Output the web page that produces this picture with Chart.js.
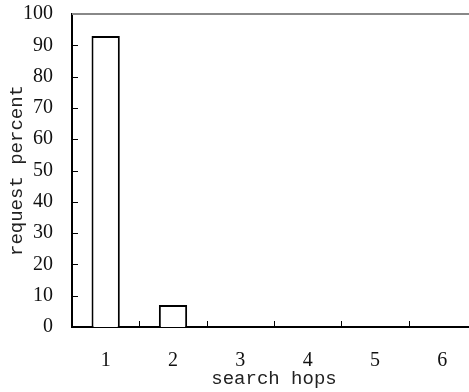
<!DOCTYPE html>
<html>
<head>
<meta charset="utf-8">
<script src="https://cdn.jsdelivr.net/npm/chart.js@4"></script>
<style>
  html, body { margin: 0; padding: 0; background: #fff; overflow: hidden; }
  #wrap { width: 480px; height: 392px; }
</style>
</head>
<body>
<div id="wrap"><canvas id="chart"></canvas></div>
<script>
// chart data
const hops = ['1', '2', '3', '4', '5', '6'];
const requestPercent = [93, 7, 0, 0, 0, 0];
const yTicks = [0, 10, 20, 30, 40, 50, 60, 70, 80, 90, 100];

const tickFont = {family: 'Liberation Serif', size: 20};
const titleFont = {family: 'Liberation Mono', size: 19};

// inward tick marks + grey top border
const innerTicks = {
  id: 'innerTicks',
  afterDraw(chart) {
    const {ctx, chartArea, scales} = chart;
    ctx.save();
    ctx.strokeStyle = '#000';
    ctx.lineWidth = 1;
    ctx.beginPath();
    yTicks.forEach(v => {
      const y = Math.round(scales.y.getPixelForValue(v)) + 0.5;
      ctx.moveTo(chartArea.left, y);
      ctx.lineTo(chartArea.left + 6, y);
    });
    for (let i = 0; i < hops.length - 1; i++) {
      const x = Math.round((scales.x.getPixelForTick(i) + scales.x.getPixelForTick(i + 1)) / 2) + 0.5;
      ctx.moveTo(x, chartArea.bottom);
      ctx.lineTo(x, chartArea.bottom - 6);
    }
    ctx.stroke();
    ctx.strokeStyle = '#888';
    ctx.lineWidth = 2;
    ctx.beginPath();
    ctx.moveTo(chartArea.left, chartArea.top);
    ctx.lineTo(chartArea.right + 10, chartArea.top);
    ctx.stroke();
    ctx.restore();
  }
};

new Chart(document.getElementById('chart'), {
  type: 'bar',
  data: {
    labels: hops,
    datasets: [{
      data: requestPercent,
      backgroundColor: '#fff',
      borderColor: '#000',
      borderWidth: 2,
      barPercentage: 0.42,
      categoryPercentage: 1
    }]
  },
  options: {
    responsive: true,
    maintainAspectRatio: false,
    animation: false,
    layout: {padding: {top: 14, right: 4, left: 0, bottom: 0}},
    plugins: {legend: {display: false}, tooltip: {enabled: false}},
    scales: {
      x: {
        grid: {display: false, drawTicks: false},
        border: {display: true, color: '#000', width: 2},
        ticks: {color: '#111', font: tickFont, padding: 22, maxRotation: 0},
        title: {display: true, text: 'search hops', color: '#222', font: titleFont, padding: {top: 0, bottom: 2}},
        afterFit: s => { s.height = 65; s.paddingLeft = 0; s.paddingRight = 0; }
      },
      y: {
        min: 0,
        max: 100,
        grid: {display: false, drawTicks: false},
        border: {display: true, color: '#000', width: 2},
        ticks: {color: '#111', font: tickFont, padding: 19, stepSize: 10},
        title: {display: true, text: 'request percent', color: '#222', font: titleFont, padding: {top: 6, bottom: 0}},
        afterFit: s => { s.width = 72; s.paddingTop = 0; s.paddingBottom = 0; }
      }
    }
  },
  plugins: [innerTicks]
});
</script>
</body>
</html>
